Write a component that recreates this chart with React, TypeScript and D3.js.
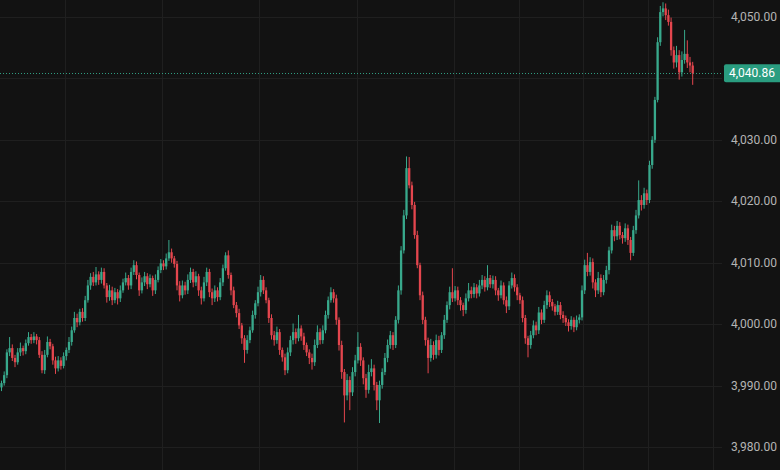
import React from "react";
import * as d3 from "d3";

const firstOpen = 3989.7;
const closes = [
  3990.4,3991.7,3995.4,3996.1,3994.5,3993.8,3995.4,3996.1,3995.6,3996.9,
  3997.9,3997.4,3998.0,3997.4,3995.0,3992.5,3995.0,3997.1,3996.4,3994.1,
  3992.8,3994.1,3993.2,3994.8,3995.8,3997.1,3999.0,4001.0,4000.3,4002.0,
  4001.0,4003.9,4006.3,4007.7,4006.8,4008.1,4007.2,4008.5,4006.3,4004.4,
  4005.5,4003.9,4005.2,4004.2,4005.5,4006.8,4007.5,4006.3,4008.5,4009.6,
  4008.0,4005.5,4006.8,4007.8,4006.5,4007.5,4005.5,4007.2,4008.8,4009.9,
  4009.4,4010.7,4011.7,4010.7,4009.8,4006.3,4004.7,4006.3,4005.5,4007.2,
  4008.5,4006.8,4007.8,4005.5,4004.2,4006.8,4008.5,4005.2,4004.2,4005.5,
  4004.4,4006.8,4009.1,4011.2,4008.0,4005.5,4003.1,4001.8,3999.8,3997.7,
  3995.8,3997.4,3999.0,4001.5,4003.4,4005.2,4007.2,4005.5,4003.9,4001.0,
  3998.2,3997.4,3998.7,3995.8,3994.6,3992.5,3995.4,3997.4,3998.7,3997.7,
  3999.3,3998.0,3996.6,3995.4,3994.5,3993.8,3996.6,3998.7,3997.4,3999.0,
  4001.5,4003.9,4005.2,4004.2,4000.7,3996.6,3992.2,3988.4,3990.9,3988.9,
  3992.2,3994.1,3996.3,3994.1,3991.2,3989.3,3992.2,3992.8,3990.1,3987.6,
  3990.1,3992.2,3994.5,3996.6,3998.2,3996.6,4000.7,4005.5,4012.0,4017.7,
  4025.4,4022.6,4019.4,4014.5,4009.6,4004.7,4000.7,3997.4,3994.5,3996.6,
  3995.0,3997.4,3995.8,3998.2,4000.7,4003.1,4005.2,4004.2,4005.5,4003.9,
  4003.1,4002.3,4004.2,4005.5,4004.9,4006.0,4005.0,4006.3,4007.2,4006.0,
  4007.5,4006.5,4007.2,4005.5,4004.7,4006.3,4003.9,4002.9,4006.3,4007.5,
  4006.0,4004.7,4003.9,4001.0,3997.7,3996.6,3998.2,3999.8,3999.0,4001.9,
  4000.7,4003.1,4004.7,4003.6,4002.9,4002.0,4003.1,4001.5,4001.0,4000.3,
  3999.7,4000.7,3999.5,4000.7,4001.1,4005.5,4009.6,4008.5,4010.1,4006.8,
  4005.5,4007.5,4005.2,4007.2,4008.8,4012.0,4015.3,4014.3,4016.0,4014.5,
  4014.0,4015.6,4013.7,4011.6,4015.3,4017.7,4020.2,4019.4,4021.3,4020.2,
  4025.9,4030.0,4036.5,4045.9,4050.8,4051.4,4050.3,4049.2,4044.6,4042.6,
  4043.8,4041.0,4043.0,4044.0,4042.6,4042.1,4040.86,
];

const wickUp = [
  0.4,0.6,0.5,1.8,0.6,0.5,0.7,0.9,0.4,0.6,
  0.8,0.5,0.7,0.4,0.5,0.6,0.8,0.9,0.5,0.4,
  0.6,0.7,0.5,0.6,0.4,0.8,0.6,1.0,0.7,0.5,
  0.6,0.7,0.9,0.6,0.8,1.2,0.5,0.7,0.6,0.4,
  0.9,0.6,0.7,0.5,0.8,0.6,0.9,0.5,0.7,0.8,
  0.6,0.4,0.8,0.7,0.5,0.6,0.4,0.9,0.6,0.7,
  0.5,0.8,2.0,0.6,0.4,0.5,0.7,0.8,0.6,0.9,
  0.7,0.5,0.8,0.4,0.6,0.9,0.7,0.5,0.6,0.8,
  0.5,0.7,0.6,0.5,0.8,0.4,0.6,0.5,0.7,0.4,
  0.5,0.8,0.6,0.7,0.5,0.9,0.8,0.6,0.5,0.4,
  0.6,0.7,0.9,0.5,0.4,0.6,0.8,0.7,1.4,0.6,
  2.2,0.5,0.6,0.4,0.5,0.7,0.9,1.1,0.6,0.8,
  0.7,0.6,0.8,0.5,0.6,0.4,0.7,0.5,1.0,0.6,
  0.8,0.9,2.4,0.6,0.5,0.7,1.2,1.5,0.6,0.5,
  0.7,0.6,0.8,0.9,0.7,0.5,0.6,0.8,0.7,0.9,
  1.9,1.8,0.6,0.5,0.7,0.4,0.6,0.5,0.4,1.0,
  0.6,0.9,0.7,0.5,0.8,0.6,0.9,3.9,0.7,0.6,
  0.5,0.4,0.8,1.2,0.6,0.7,0.5,0.9,0.8,0.6,
  2.1,0.5,0.7,0.6,0.4,0.8,0.5,0.6,0.7,0.9,
  0.6,0.5,0.4,0.6,0.5,0.4,0.7,0.8,0.6,0.9,
  0.5,0.7,0.8,0.6,0.5,0.4,0.7,0.5,0.6,0.4,
  0.5,0.6,0.4,0.7,0.5,0.8,0.9,2.0,0.8,0.6,
  0.5,1.0,0.6,0.8,0.7,0.6,0.9,0.7,0.8,0.6,
  0.5,0.8,0.6,0.5,0.7,0.9,3.2,0.8,0.9,0.6,
  0.7,0.6,0.5,0.8,1.0,1.0,0.8,0.9,0.7,0.6,
  1.5,0.8,1.4,3.9,2.2,0.9,0.6,
];

const wickDown = [
  0.6,0.4,0.5,0.6,0.5,0.8,0.4,0.6,0.7,0.5,
  0.4,0.6,0.5,0.7,0.5,0.5,0.6,0.4,0.5,0.7,
  0.9,0.5,0.6,0.4,0.7,0.5,0.6,0.4,0.8,0.5,
  0.6,0.5,0.4,0.7,0.6,0.5,0.8,0.6,0.5,0.9,
  0.6,0.8,0.5,1.0,0.6,0.4,0.5,0.7,0.6,0.5,
  0.7,0.9,0.5,0.6,0.8,0.5,0.9,0.6,0.4,0.5,
  0.6,0.5,0.4,0.7,0.6,0.8,1.0,0.5,0.7,0.6,
  0.5,0.8,0.6,0.9,1.0,0.5,0.6,0.8,1.1,0.6,
  0.7,0.5,0.6,0.4,0.6,0.8,0.5,0.7,0.6,0.9,
  2.1,0.6,0.5,0.4,0.6,0.5,0.7,0.6,0.5,0.8,
  0.7,0.9,0.6,0.8,0.7,0.8,0.5,0.6,0.7,0.9,
  0.5,0.7,0.8,0.6,1.0,1.2,0.6,0.5,0.7,0.6,
  0.5,0.6,0.4,0.7,0.8,0.9,1.1,4.4,0.8,2.9,
  0.6,0.7,0.5,0.9,1.0,1.3,0.6,0.7,0.9,1.6,
  3.7,0.6,0.5,0.7,0.6,0.8,0.5,0.6,0.7,0.5,
  0.6,0.5,0.7,0.6,0.5,0.8,0.7,0.9,2.5,0.6,
  0.8,0.6,0.9,0.5,0.6,0.5,0.7,0.6,0.5,0.8,
  0.9,1.0,0.6,0.5,0.7,0.6,0.8,0.5,0.6,0.7,
  0.5,0.6,0.7,0.8,0.9,0.5,0.7,1.1,0.6,0.5,
  0.7,0.8,0.6,0.7,0.9,2.0,0.6,0.5,0.8,0.6,
  0.7,0.5,0.6,0.8,0.7,0.6,0.5,0.7,0.8,0.6,
  0.9,0.6,0.8,0.5,0.6,0.5,0.6,0.7,0.6,1.0,
  1.1,0.6,0.8,0.5,0.6,0.7,0.5,0.8,0.6,0.7,
  0.9,0.6,0.8,1.2,0.5,0.6,0.5,0.9,0.6,0.8,
  0.5,0.6,0.5,0.4,0.6,0.7,0.8,0.6,0.9,1.0,
  0.8,1.2,0.7,0.6,0.9,1.1,1.9,
];

const priceTicks = [3980, 3990, 4000, 4010, 4020, 4030, 4040, 4050];
const priceLabels = ["3,980.00", "3,990.00", "4,000.00", "4,010.00", "4,020.00", "4,030.00", "", "4,050.00"];
const timeGridIdx = [23.5, 59.5, 95.5, 131.5, 167.5, 191.5, 215.5, 239.5, 263.5];
const lastPrice = 4040.86;
const lastPriceLabel = "4,040.86";

const W = 780;
const H = 470;
const BG = "#121212";
const GRID = "#1f1f1f";
const UP = "#38a98c";
const DOWN = "#e4464e";

export default function App() {
  const paneRight = 722;
  const x = d3.scaleLinear().domain([0, closes.length - 1]).range([1.5, 692.7]);
  const y = d3.scaleLinear().domain([3980, 4050]).range([447, 17]);

  const candles = closes.map((c, i) => {
    const o = i === 0 ? firstOpen : closes[i - 1];
    const hi = Math.max(o, c) + wickUp[i];
    const lo = Math.min(o, c) - wickDown[i];
    return { o, c, hi, lo, i };
  });

  const bodyW = 2.3;

  return (
    <svg
      width={W}
      height={H}
      style={{ position: "fixed", left: 0, top: 0, display: "block", background: BG }}
    >
      <rect x={0} y={0} width={W} height={H} fill={BG} />
      {priceTicks.map((t) => (
        <line key={"h" + t} x1={0} x2={paneRight} y1={Math.round(y(t)) + 0.5} y2={Math.round(y(t)) + 0.5} stroke={GRID} strokeWidth={1} />
      ))}
      {timeGridIdx.map((g) => (
        <line key={"v" + g} x1={Math.round(x(g)) + 0.5} x2={Math.round(x(g)) + 0.5} y1={0} y2={H} stroke={GRID} strokeWidth={1} />
      ))}
      <line
        x1={0}
        x2={paneRight}
        y1={Math.round(y(lastPrice)) + 0.5}
        y2={Math.round(y(lastPrice)) + 0.5}
        stroke="#2f9c80"
        strokeWidth={1}
        strokeDasharray="1 2"
      />
      <g>
        {candles.map((d) => {
          const col = d.c >= d.o ? UP : DOWN;
          const cx = x(d.i);
          const top = y(Math.max(d.o, d.c));
          const bot = y(Math.min(d.o, d.c));
          return (
            <g key={d.i}>
              <line x1={cx} x2={cx} y1={y(d.hi)} y2={y(d.lo)} stroke={col} strokeWidth={1} />
              <rect x={cx - bodyW / 2} y={top} width={bodyW} height={Math.max(1, bot - top)} fill={col} />
            </g>
          );
        })}
      </g>
      {priceTicks.map((t, k) =>
        priceLabels[k] ? (
          <text
            key={"l" + t}
            x={731}
            y={y(t)}
            dy="0.35em"
            fill="#b4b4b4"
            fontFamily="Roboto, 'Noto Sans', sans-serif"
            fontSize={12}
          >
            {priceLabels[k]}
          </text>
        ) : null
      )}
      <rect x={724} y={y(lastPrice) - 9} width={60} height={18} fill="#2a9d80" rx={2} />
      <text
        x={729}
        y={y(lastPrice)}
        dy="0.35em"
        fill="#ffffff"
        fontFamily="Roboto, 'Noto Sans', sans-serif"
        fontSize={12}
      >
        {lastPriceLabel}
      </text>
    </svg>
  );
}
